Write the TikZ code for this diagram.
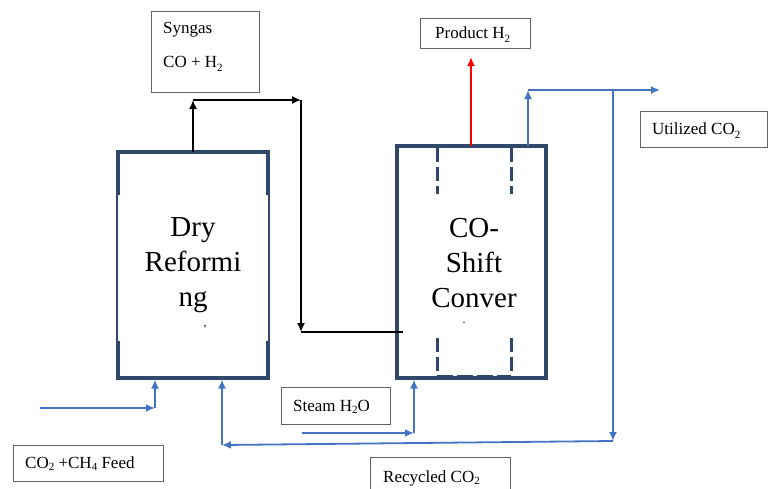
\documentclass[tikz,border=0pt]{standalone}
\usepackage{fontspec}
\setmainfont{Liberation Serif}
\usetikzlibrary{arrows.meta}

\definecolor{vesselblue}{RGB}{47,72,108}
\definecolor{co2blue}{RGB}{68,114,196}
\definecolor{h2red}{RGB}{255,0,0}
\definecolor{tagline}{RGB}{100,100,100}
\newcommand{\hsub}[1]{\raisebox{-0.6ex}{\fontsize{11}{11}\selectfont #1}}
\newcommand{\lowsub}[1]{\raisebox{-0.35ex}{\fontsize{11}{11}\selectfont #1}}

\begin{document}
\begin{tikzpicture}[x=1pt,y=-1pt,
    vessel/.style={draw=vesselblue,line width=3.5pt,inner sep=0pt,outer sep=0pt,
      minimum width=150pt,minimum height=226pt},
    tag/.style={draw=tagline,line width=0.9pt,inner sep=0pt,outer sep=0pt},
    tagtext/.style={anchor=base west,inner sep=0pt,font=\fontsize{17}{20}\selectfont},
    bigtext/.style={align=center,inner sep=0pt,font=\fontsize{29}{35}\selectfont},
    flow/.style={draw=co2blue,line width=1.8pt,-{Latex[length=9pt,width=8pt]}},
    gas/.style={draw=black,line width=1.5pt,-{Latex[length=9pt,width=8pt]}}]

      \path[use as bounding box,clip] (0,0) rectangle (768,488);

      % the two reactors
      \node[vessel] (dry) at (193,265) {};
      \fill[white] (117.5,195) rectangle (267.5,341);
      \node[bigtext] (drytext) at (193,265) {Dry\\Reformi\\ng};
      \node[inner sep=0pt,font=\fontsize{12}{12}\selectfont] (drycut) at (205,327) {,};

      \node[vessel,minimum width=149pt,minimum height=232pt] (shift) at (471.5,262) {};
      % catalyst bed inside the shift converter
      \draw[vesselblue,line width=3pt,dash pattern=on 14pt off 5pt] (437,148) -- (437,376);
      \draw[vesselblue,line width=3pt,dash pattern=on 14pt off 5pt] (511,148) -- (511,376);
      \draw[vesselblue,line width=3pt,dash pattern=on 16pt off 4pt] (437,376) -- (511,376);
      \fill[white] (420,194) rectangle (525,338);
      \node[bigtext] (shifttext) at (474,263) {CO-\\Shift\\Conver};
      \node[inner sep=0pt,font=\fontsize{12}{12}\selectfont] (shiftcut) at (464,323) {.};

      % stream labels
      \node[tag,minimum width=108pt,minimum height=81pt] (syngas) at (205,51.5) {};
      \node[tagtext] (syngastext) at (163,33) {Syngas};
      \node[tagtext] (syngasmix) at (163,67) {CO + H\hsub{2}};

      \node[tag,minimum width=110pt,minimum height=30pt] (product) at (475,33) {};
      \node[tagtext] (producttext) at (435,38) {Product H\hsub{2}};

      \node[tag,minimum width=127pt,minimum height=36pt] (utilized) at (703.5,129) {};
      \node[tagtext] (utilizedtext) at (652,134) {Utilized CO\hsub{2}};

      \node[tag,minimum width=150pt,minimum height=36pt] (feed) at (88,463) {};
      \node[tagtext] (feedtext) at (25,468) {CO\lowsub{2} +CH\lowsub{4} Feed};

      \node[tag,minimum width=109pt,minimum height=37pt] (steam) at (335.5,405.5) {};
      \node[tagtext] (steamtext) at (293,411) {Steam H\lowsub{2}O};

      \node[tag,minimum width=140pt,minimum height=36pt] (recycled) at (440,475) {};
      \node[tagtext] (recycledtext) at (383,482) {Recycled CO\lowsub{2}};

      % corners of the pipes
      \coordinate (sg1) at (193,100);
      \coordinate (sg2) at (301,100);
      \coordinate (sg3) at (301,332);
      \coordinate (shiftin) at (403,332);
      \coordinate (h2out) at (471,146);
      \coordinate (ut1) at (528,90);
      \coordinate (ut2) at (660,90);
      \coordinate (rc0) at (613,90);
      \coordinate (rc1) at (613,441);
      \coordinate (rc2) at (222,445);
      \coordinate (fd0) at (40,408);
      \coordinate (fd1) at (155,408);
      \coordinate (st0) at (302,433);
      \coordinate (st1) at (414,433);

      % syngas from dry reforming to the shift converter
      \draw[gas] (dry.north) -- (sg1);
      \draw[gas] (sg1) -- (sg2);
      \draw[gas] (sg2) -- (sg3);
      \draw[black,line width=1.5pt] (sg3) -- (shiftin);

      % hydrogen out
      \draw[draw=h2red,fill=h2red,line width=2pt,-{Latex[length=9pt,width=8pt]},shorten >=9pt]
        (h2out) -- (h2out |- product.south);

      % CO2 out of the shift, part of it goes back
      \draw[flow] (shift.north -| ut1) -- (ut1);
      \draw[flow] (ut1) -- (ut2);
      \draw[flow] (rc0) -- (rc1);
      \draw[flow] (rc1) -- (rc2);
      \draw[flow,shorten >=1.5pt] (rc2) -- (rc2 |- dry.south);

      % feeds
      \draw[flow] (fd0) -- (fd1);
      \draw[flow,shorten >=1.5pt] (fd1) -- (fd1 |- dry.south);
      \draw[flow] (st0) -- (st1);
      \draw[flow,shorten >=1.5pt] (st1) -- (st1 |- shift.south);

\end{tikzpicture}
\end{document}
